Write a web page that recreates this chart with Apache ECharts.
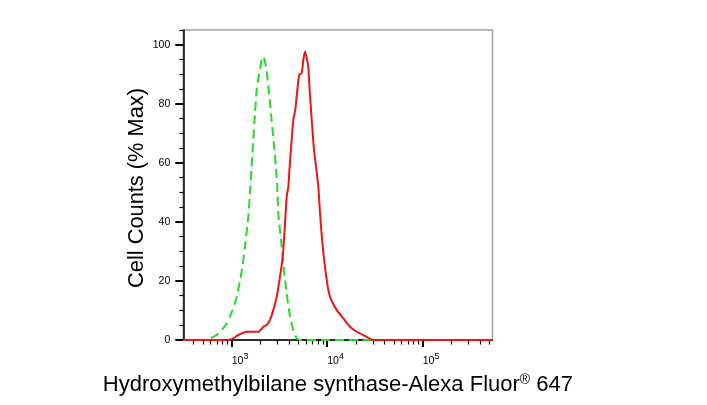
<!DOCTYPE html>
<html>
<head>
<meta charset="utf-8">
<script src="https://cdn.jsdelivr.net/npm/echarts@6/dist/echarts.min.js"></script>
<style>
html,body{margin:0;padding:0;background:#fff;}
#chart{width:707px;height:405px;}
</style>
</head>
<body>
<div id="chart"></div>
<script>
// Fluorescence intensity (linear units) and % of max cell counts
const greenIntensity = [310, 520, 569, 697, 817, 887, 960, 1083, 1136, 1221, 1282, 1378, 1492, 1555, 1611, 1683, 1754, 1828, 1931, 2075, 2143, 2286, 2477, 2624, 2773, 2910, 3000, 3075, 3340, 3530, 3767, 4076, 4416, 4797, 5188, 540000];
const greenPct       = [0,   0,   0.3, 1.7, 4,   5.7, 7.9, 12.5, 15,  20,   24,   31.6, 41.8, 50,   58,   68,   77,   85,   90,   95.2, 96,   92.5, 82.7, 74,   66,   58.3, 52,   43,   31.6, 23.7, 15.8, 7.9,  3.4,  0.6,  0,    0];

const redIntensity = [310, 817, 1000, 1173, 1436, 1900, 2143, 2324, 2518, 2727, 2959, 3206, 3422, 3615, 3767, 3917, 4030, 4246, 4416, 4634, 4909, 5102, 5408, 5623, 5862, 6100, 6339, 6545, 6883, 7275, 7638, 8070, 8414, 8980, 9886, 10690, 12560, 14750, 17330, 20360, 24890, 30410, 540000];
const redPct       = [0,   0,   0.3,  1.7,  2.8,  2.8,  4.5,  5.1,  6.8,  10.2, 14.7, 21.5, 28.2, 39.5, 48.6, 52,   58,   67.8, 74.6, 78,   85.9, 89.8, 90.4, 94.9, 97.7, 95.5, 92.6, 84.7, 74.6, 64.4, 58.8, 52,   42.9, 31.6, 20.3, 14.7,  10.2,  7.3,   4.5,   2.8,   1.4,   0,     0];

// Axis definitions
const xDecades = [3, 4, 5];                 // labelled decades: 10^3, 10^4, 10^5
const xLogMin = 2.493, xLogMax = 5.731;     // axis range in log10 units
const yMajor = [0, 20, 40, 60, 80, 100];
const yMinor = [5, 10, 15, 25, 30, 35, 45, 50, 55, 65, 70, 75, 85, 90, 95, 105];

const xMinor = [];
for (let d = 2; d <= 5; d++) {
  for (let k = 2; k <= 9; k++) {
    const v = Math.log10(k * Math.pow(10, d));
    if (v > xLogMin && v < xLogMax) xMinor.push(v);
  }
}

const toData = (xs, ys) => xs.map((x, i) => [Math.log10(x), ys[i]]);

const FONT = 'Liberation Sans, Arial, sans-serif';
const chart = echarts.init(document.getElementById('chart'));
chart.setOption({
  animation: false,
  backgroundColor: '#fff',
  grid: {
    left: 183.3, right: 214.5, top: 30, bottom: 65,
    show: true, borderColor: '#a0a0a0', borderWidth: 1.5, backgroundColor: 'transparent'
  },
  xAxis: [{
    type: 'value', min: xLogMin, max: xLogMax, position: 'bottom',
    axisLine: { show: true, lineStyle: { color: '#000', width: 1.5 } },
    axisTick: { show: true, customValues: xDecades, length: 7, lineStyle: { color: '#000', width: 2 } },
    axisLabel: {
      show: true, customValues: xDecades, margin: 12, align: 'left',
      formatter: v => '{b|10}{p|' + Math.round(v) + '}',
      rich: {
        b: { fontSize: 10.5, fontFamily: FONT, color: '#000' },
        p: { fontSize: 9, fontFamily: FONT, color: '#000', padding: [0, 0, 9, 0] }
      }
    },
    splitLine: { show: false },
    name: '{a|Hydroxymethylbilane synthase-Alexa Fluor}{s|®}{a| 647}',
    nameLocation: 'middle', nameGap: 33,
    nameTextStyle: {
      rich: {
        a: { fontSize: 22, fontFamily: FONT, color: '#000' },
        s: { fontSize: 14, fontFamily: FONT, color: '#000', padding: [0, 0, 9, 0] }
      }
    }
  }, {
    type: 'value', min: xLogMin, max: xLogMax, position: 'bottom',
    axisLine: { show: false },
    axisTick: { show: true, customValues: xMinor, length: 4.5, lineStyle: { color: '#000', width: 1.2 } },
    axisLabel: { show: false },
    splitLine: { show: false }
  }],
  yAxis: [{
    type: 'value', min: 0, max: 105, position: 'left',
    axisLine: { show: true, lineStyle: { color: '#000', width: 1.5 } },
    axisTick: { show: true, customValues: yMajor, length: 8, lineStyle: { color: '#000', width: 2 } },
    axisLabel: { show: true, customValues: yMajor, margin: 13, fontSize: 10.5, fontFamily: FONT, color: '#000' },
    splitLine: { show: false },
    name: 'Cell Counts (% Max)', nameLocation: 'middle', nameGap: 35,
    nameTextStyle: { fontSize: 21.8, fontFamily: FONT, color: '#000', padding: [0, 6, 0, 0] }
  }, {
    type: 'value', min: 0, max: 105, position: 'left',
    axisLine: { show: false },
    axisTick: { show: true, customValues: yMinor, length: 4, lineStyle: { color: '#000', width: 1.2 } },
    axisLabel: { show: false },
    splitLine: { show: false }
  }],
  series: [{
    name: 'Control', type: 'line', xAxisIndex: 0, yAxisIndex: 0,
    data: toData(greenIntensity, greenPct),
    showSymbol: false, smooth: 0.2,
    lineStyle: { color: '#22dd22', width: 2, type: [9, 5] }
  }, {
    name: 'Sample', type: 'line', xAxisIndex: 0, yAxisIndex: 0,
    data: toData(redIntensity, redPct),
    showSymbol: false, smooth: 0.2,
    lineStyle: { color: '#ee1515', width: 2 }
  }]
});
</script>
</body>
</html>
